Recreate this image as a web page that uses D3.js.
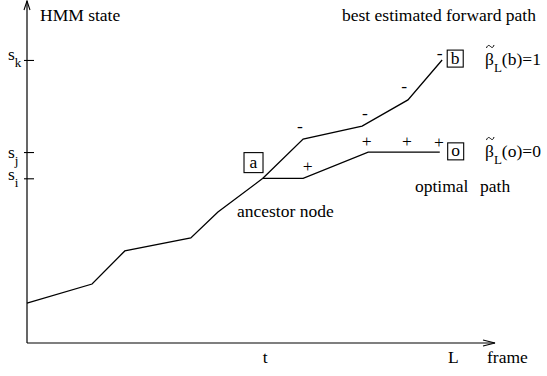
<!DOCTYPE html>
<html>
<head>
<meta charset="utf-8">
<script src="https://cdn.jsdelivr.net/npm/d3@7"></script>
<style>
  body { margin: 0; background: #fff; }
  #chart text { font-family: "Liberation Serif", Tinos, "Times New Roman", serif; font-size: 17.5px; fill: #000; }
</style>
</head>
<body>
<svg id="chart" width="547" height="376"></svg>
<script>
// frames and states in arbitrary units (0-100 on both axes)
const ancestorFrames = [0, 13.9, 20.9, 35.0, 40.8, 50.4]
const ancestorStates = [11.7, 17.3, 27.0, 30.8, 38.4, 48.3]
const forwardFrames = [50.4, 59.0, 71.6, 81.4, 88.7]
const forwardStates = [48.3, 59.8, 63.6, 71.3, 83.0]
const optimalFrames = [50.4, 59.0, 72.9, 88.2]
const optimalStates = [48.3, 48.3, 56.0, 56.0]

const stateTickNames = ['k', 'j', 'i']
const stateTickValues = [83.0, 56.0, 48.3]
const frameTickNames = ['t', 'L']
const frameTickValues = [50.8, 91]

const minusFrames = [58.3, 72.2, 80.6, 88.2]
const minusStates = [63.0, 66.9, 74.8, 84.5]
const plusFrames = [60.0, 72.6, 81.2, 88.0]
const plusStates = [51.6, 58.9, 58.9, 58.7]

const boxNames = ['a', 'b', 'o']
const boxFrames = [48.4, 91.5, 91.6]
const boxStates = [52.9, 83.4, 56.2]

const betaNodes = ['b', 'o']
const betaValues = [1, 0]
const betaStates = [83.0, 56.0]

const svg = d3.select('#chart')
const x = d3.scaleLinear().domain([0, 100]).range([27, 495])
const y = d3.scaleLinear().domain([0, 100]).range([343, 2])
const serif = '"Liberation Serif", Tinos, "Times New Roman", serif'

const zip = (fs, ss) => fs.map((f, i) => ({ f: f, s: ss[i] }))
const line = d3.line().x(d => x(d.f)).y(d => y(d.s))

// axes lines with open arrow heads
const x0 = x(0), y0 = y(0), xEnd = x.range()[1], yEnd = y.range()[1] - 1
svg.append('line').attr('x1', x0).attr('y1', y0).attr('x2', x0).attr('y2', yEnd)
  .attr('stroke', '#000').attr('stroke-width', 1.2)
svg.append('line').attr('x1', x0).attr('y1', y0).attr('x2', xEnd).attr('y2', y0)
  .attr('stroke', '#000').attr('stroke-width', 1.2)
svg.append('polyline')
  .attr('points', `${x0 - 3},${yEnd + 9} ${x0},${yEnd} ${x0 + 3},${yEnd + 9}`)
  .attr('fill', 'none').attr('stroke', '#000').attr('stroke-width', 1.1)
svg.append('polyline')
  .attr('points', `${xEnd - 12},${y0 - 3} ${xEnd},${y0} ${xEnd - 12},${y0 + 3}`)
  .attr('fill', 'none').attr('stroke', '#000').attr('stroke-width', 1.1)

// state ticks
const yAxisG = svg.append('g')
  .attr('transform', `translate(${x0},0)`)
  .call(d3.axisLeft(y).tickValues(stateTickValues).tickSize(3).tickFormat(''))
yAxisG.select('.domain').remove()
yAxisG.selectAll('.tick line').attr('x1', 7).attr('x2', -3).attr('stroke', '#000').attr('stroke-width', 1.1)

const labelShift = [0, 6, 2]
const sLabels = svg.append('g').selectAll('text').data(stateTickValues)
  .enter().append('text')
  .attr('x', 8)
  .attr('y', (d, i) => y(d) + labelShift[i])
sLabels.append('tspan').text('s')
sLabels.append('tspan').attr('dy', 7).style('font-size', '13px').text((d, i) => stateTickNames[i])

// frame ticks
const xAxisG = svg.append('g')
  .attr('transform', `translate(0,${y0})`)
  .call(d3.axisBottom(x).tickValues(frameTickValues).tickSize(0).tickFormat((d, i) => frameTickNames[i]))
xAxisG.select('.domain').remove()
xAxisG.selectAll('.tick text')
  .attr('y', 8)
  .style('font-family', serif)
  .style('font-size', '17.5px')
  .attr('fill', '#000')

// paths
const paths = [zip(ancestorFrames, ancestorStates), zip(forwardFrames, forwardStates), zip(optimalFrames, optimalStates)]
svg.append('g').selectAll('path').data(paths)
  .enter().append('path')
  .attr('d', line)
  .attr('fill', 'none')
  .attr('stroke', '#000')
  .attr('stroke-width', 1.3)

// +/- marks
svg.append('g').selectAll('text').data(zip(minusFrames, minusStates))
  .enter().append('text')
  .attr('x', d => x(d.f)).attr('y', d => y(d.s) + 4)
  .attr('text-anchor', 'middle')
  .text('-')
svg.append('g').selectAll('text').data(zip(plusFrames, plusStates))
  .enter().append('text')
  .attr('x', d => x(d.f)).attr('y', d => y(d.s) + 5)
  .attr('text-anchor', 'middle')
  .text('+')

// boxed nodes
const boxW = [19, 16, 16], boxH = [20, 17, 17]
const boxes = svg.append('g').selectAll('g').data(boxNames)
  .enter().append('g')
  .attr('transform', (d, i) => `translate(${x(boxFrames[i])},${y(boxStates[i])})`)
boxes.append('rect')
  .attr('x', (d, i) => -boxW[i] / 2).attr('y', (d, i) => -boxH[i] / 2)
  .attr('width', (d, i) => boxW[i]).attr('height', (d, i) => boxH[i])
  .attr('fill', 'none').attr('stroke', '#000').attr('stroke-width', 1.1)
boxes.append('text')
  .attr('text-anchor', 'middle').attr('y', 5)
  .text(d => d)

// beta labels, tilde drawn as a small curve above the beta
const betaG = svg.append('g').selectAll('g').data(betaNodes)
  .enter().append('g')
  .attr('transform', (d, i) => `translate(485,${y(betaStates[i]) + 5})`)
const betas = betaG.append('text')
betas.append('tspan').text('\u03B2')
betas.append('tspan').attr('dy', 7).style('font-size', '13px').text('L')
betas.append('tspan').attr('dy', -7).text((d, i) => '(' + d + ')=' + betaValues[i])
betaG.append('path')
  .attr('d', 'M1.5,-17 C2.5,-20 4,-20 5.5,-18.5 S8,-17 9,-20')
  .attr('fill', 'none').attr('stroke', '#000').attr('stroke-width', 1)

// text labels
svg.append('text').attr('x', 40).attr('y', 21).text('HMM state')
svg.append('text').attr('x', 342).attr('y', 21).text('best estimated forward path')
svg.append('text').attr('x', 237).attr('y', 217).text('ancestor node')
svg.append('text').attr('x', 415).attr('y', 192).text('optimal')
svg.append('text').attr('x', 480).attr('y', 192).text('path')
svg.append('text').attr('x', 487).attr('y', 363).text('frame')
</script>
</body>
</html>
